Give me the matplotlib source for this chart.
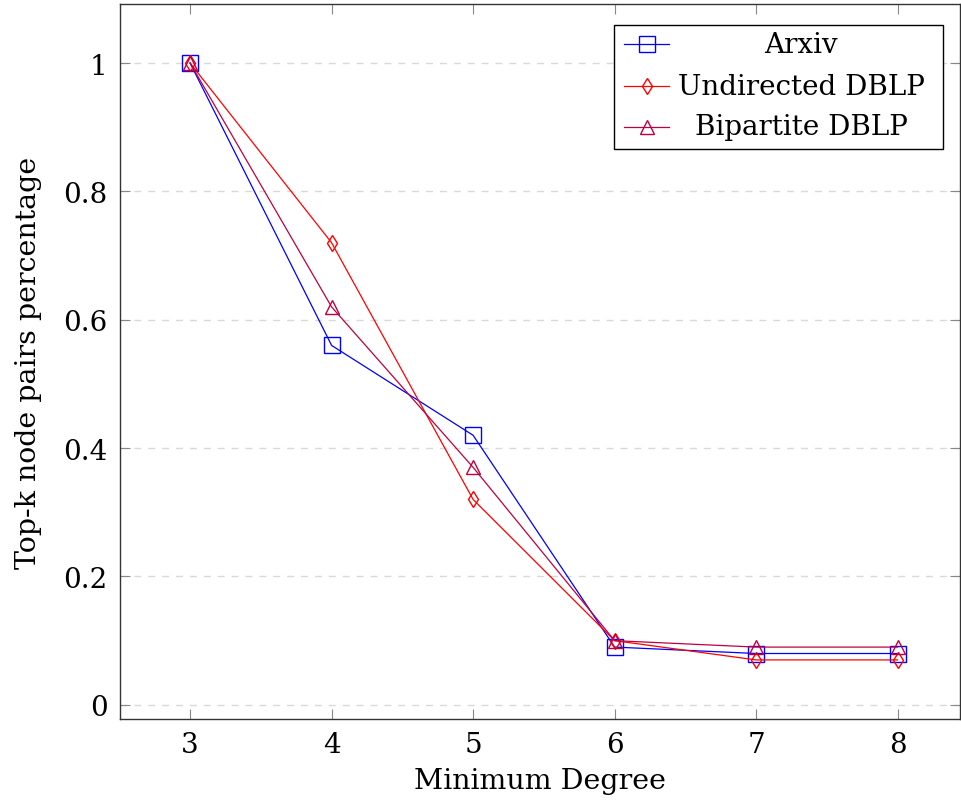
import matplotlib
matplotlib.use("Agg")
import matplotlib.pyplot as plt
from matplotlib.lines import Line2D
from matplotlib.patches import Rectangle

# minimum degree on the x axis
degrees = [3, 4, 5, 6, 7, 8]

# fraction of top-k node pairs kept
arxiv = [1.0, 0.56, 0.42, 0.09, 0.08, 0.08]
undirected_dblp = [1.0, 0.72, 0.32, 0.10, 0.07, 0.07]
bipartite_dblp = [1.0, 0.62, 0.37, 0.10, 0.09, 0.09]

labels = ["Arxiv", "Undirected DBLP", "Bipartite DBLP"]
y_ticks = [0, 0.2, 0.4, 0.6, 0.8, 1]
y_tick_labels = ["0", "0.2", "0.4", "0.6", "0.8", "1"]

SERIES = [
    (arxiv, "#0000ff", "s", 11),
    (undirected_dblp, "#ff0000", "d", 8.5),
    (bipartite_dblp, "#bf0040", "^", 10),
]

plt.rcParams["font.family"] = "DejaVu Serif"

fig = plt.figure(figsize=(9.61, 8.03), dpi=100)
ax = fig.add_axes([0.1249, 0.1034, 0.874, 0.8904])

for vals, color, marker, ms in SERIES:
    ax.plot(degrees, vals, color=color, lw=0.9, marker=marker, ms=ms,
            mfc="none", mec=color, mew=1.0)

ax.set_xlim(2.505, 8.44)
ax.set_ylim(-0.022, 1.092)
ax.set_xticks(degrees)
ax.set_yticks(y_ticks)
ax.set_yticklabels(y_tick_labels)
ax.tick_params(direction="in", length=7, width=0.8, color="#888888",
               top=True, right=True, labelsize=20, pad=9)
ax.grid(axis="y", color="#d9d9d9", lw=1.0, ls=(0, (5, 5)))
ax.set_axisbelow(True)
for sp in ax.spines.values():
    sp.set_linewidth(1.0)
    sp.set_color("#333333")

ax.set_xlabel("Minimum Degree", fontsize=20.5, labelpad=6)
ax.set_ylabel("Top-k node pairs percentage", fontsize=20.5, labelpad=15)

# legend drawn by hand so the labels can be centred like pgfplots does
box = Rectangle((0.588, 0.797), 0.392, 0.174, transform=ax.transAxes,
                facecolor="white", edgecolor="black", lw=1.0, zorder=5)
ax.add_patch(box)
rows_y = [0.944, 0.885, 0.828]
for (vals, color, marker, ms), lab, ry in zip(SERIES, labels, rows_y):
    ax.add_line(Line2D([0.600, 0.654], [ry, ry], transform=ax.transAxes,
                       color=color, lw=0.9, zorder=6))
    ax.add_line(Line2D([0.627], [ry], transform=ax.transAxes, color=color,
                       marker=marker, ms=ms, mfc="none", mec=color, mew=1.0,
                       ls="none", zorder=6))
    ax.text(0.811, ry, lab, transform=ax.transAxes, ha="center", va="center",
            fontsize=20, zorder=7)

fig.savefig("out.png", dpi=100)
